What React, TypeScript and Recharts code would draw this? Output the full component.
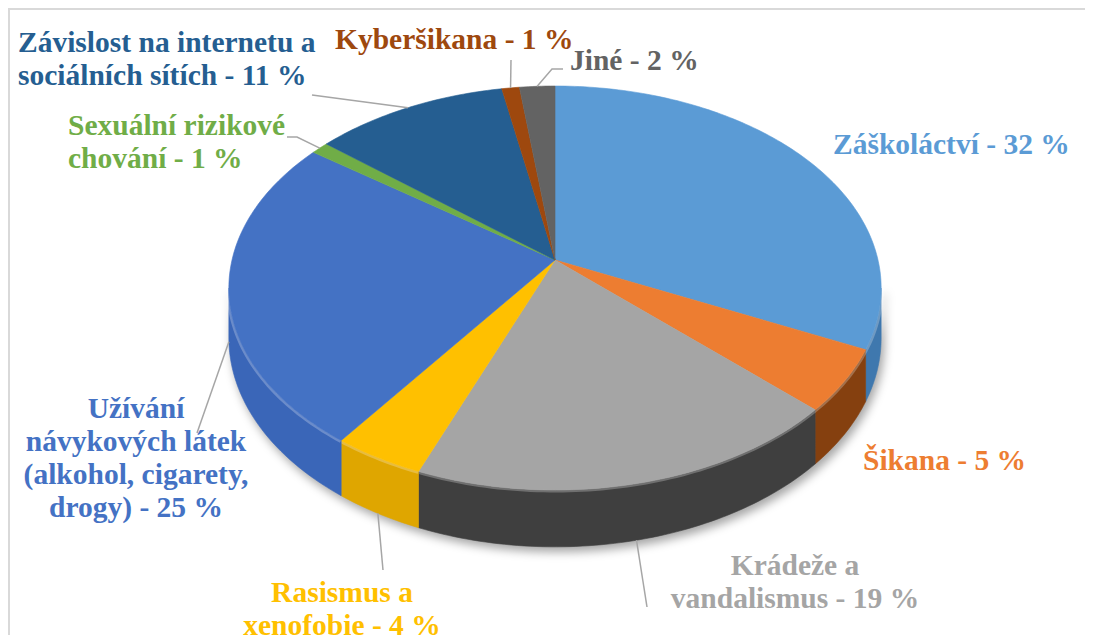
import React from 'react';
import { PieChart, Pie, Cell } from 'recharts';

const NAMES = [
  'Záškoláctví',
  'Šikana',
  'Krádeže a vandalismus',
  'Rasismus a xenofobie',
  'Užívání návykových látek (alkohol, cigarety, drogy)',
  'Sexuální rizikové chování',
  'Závislost na internetu a sociálních sítích',
  'Kyberšikana',
  'Jiné',
];
const VALUES = [32, 5, 19, 4, 25, 1, 11, 1, 2];

// label text split into lines; the value is appended to the last line
const LABEL_LINES = [
  ['Záškoláctví'],
  ['Šikana'],
  ['Krádeže a', 'vandalismus'],
  ['Rasismus a', 'xenofobie'],
  ['Užívání', 'návykových látek', '(alkohol, cigarety,', 'drogy)'],
  ['Sexuální rizikové', 'chování'],
  ['Závislost na internetu a', 'sociálních sítích'],
  ['Kyberšikana'],
  ['Jiné'],
];

const COLORS = ['#5B9BD5', '#ED7D31', '#A5A5A5', '#FFC000', '#4472C4', '#70AD47', '#255E91', '#9E480E', '#636363'];
const SIDE_COLORS = ['#3f78ae', '#85400f', '#3f3f3f', '#dfa600', '#3a66b8', '#568a36', '#1c4770', '#7a360a', '#4a4a4a'];

// label placement (text position + leader waypoints); leader ends on the slice rim
const LABEL_LAYOUT = [
  { x: 833, y: 154, anchor: 'start', leader: null, rim: 'top' },
  { x: 863, y: 470, anchor: 'start', leader: null, rim: 'top' },
  { x: 795, y: 575, anchor: 'middle', leader: [[647, 607]], rim: 'bottom' },
  { x: 342, y: 602, anchor: 'middle', leader: [[383, 570]], rim: 'bottom' },
  { x: 136, y: 418, anchor: 'middle', leader: [[197, 433]], rim: 'bottom' },
  { x: 68, y: 135, anchor: 'start', leader: [[287, 137], [297, 137]], rim: 'top' },
  { x: 18, y: 52, anchor: 'start', leader: [[312, 95]], rim: 'top' },
  { x: 335, y: 49, anchor: 'start', leader: [[511, 60]], rim: 'top' },
  { x: 570, y: 70, anchor: 'start', leader: [[563, 69], [552, 69]], rim: 'top' },
];

const data = NAMES.map((name, i) => ({ name, value: VALUES[i] }));

// perspective projection of the pie plane
const K = 0.1386;
const TILT = 0.6133;
const DEPTH = 0.1517;
const RAD = Math.PI / 180;
const SIL = Math.asin(K) / RAD;
const FONT = 'Liberation Serif, Times New Roman, serif';
const LINE_H = 33;

function proj(cx: number, cy: number, r: number, deg: number, down = 0) {
  const a = deg * RAD;
  const z = Math.sin(a);
  const den = 1 + K * z;
  return [cx + (r * Math.cos(a)) / den, cy - (r * TILT * z) / den + (down * r * DEPTH) / den];
}

function arc(cx: number, cy: number, r: number, a0: number, a1: number, down = 0) {
  const n = Math.max(2, Math.ceil(Math.abs(a0 - a1)));
  const pts: string[] = [];
  for (let s = 0; s <= n; s++) {
    const p = proj(cx, cy, r, a0 + ((a1 - a0) * s) / n, down);
    pts.push(`${p[0].toFixed(2)},${p[1].toFixed(2)}`);
  }
  return pts;
}

const idxOf = (props: any) => NAMES.indexOf(props.payload?.name ?? props.name);

const TopFace = (props: any) => {
  const { cx, cy, outerRadius, startAngle, endAngle, fill } = props;
  const pts = arc(cx, cy, outerRadius, startAngle, endAngle);
  return <path d={`M${cx},${cy} L${pts.join(' L')} Z`} fill={fill} stroke={fill} strokeWidth={0.6} />;
};

const SideWall = (props: any) => {
  const { cx, cy, outerRadius, startAngle, endAngle } = props;
  const hi = Math.min(startAngle, -SIL);
  const lo = Math.max(endAngle, -180 + SIL);
  if (hi <= lo) return <g />;
  const i = idxOf(props);
  const top = arc(cx, cy, outerRadius, hi, lo);
  const bottom = arc(cx, cy, outerRadius, lo, hi, 1);
  return (
    <g>
      <path d={`M${top.join(' L')} L${bottom.join(' L')} Z`} fill={SIDE_COLORS[i]} stroke={SIDE_COLORS[i]} strokeWidth={0.6} />
      <path d={`M${top.join(' L')}`} fill="none" stroke="#ffffff" strokeOpacity={0.25} strokeWidth={5} />
    </g>
  );
};

const renderLabel = (props: any) => {
  const { cx, cy, outerRadius, midAngle, index, value } = props;
  const lay = LABEL_LAYOUT[index];
  const lines = LABEL_LINES[index].slice();
  lines[lines.length - 1] = `${lines[lines.length - 1]} - ${value} %`;
  let leader = null;
  if (lay.leader) {
    const end = proj(cx, cy, outerRadius, midAngle, lay.rim === 'bottom' ? 1 : 0);
    const pts = [...lay.leader, end].map((p) => `${p[0]},${p[1]}`);
    leader = <path d={`M${pts.join(' L')}`} fill="none" stroke="#A6A6A6" strokeWidth={1.5} />;
  }
  return (
    <g key={`lbl-${index}`}>
      {leader}
      <text
        x={lay.x}
        y={lay.y}
        textAnchor={lay.anchor}
        fill={COLORS[index]}
        style={{ fontFamily: FONT, fontWeight: 700, fontSize: 29.5 }}
      >
        {lines.map((ln, j) => (
          <tspan key={j} x={lay.x} y={lay.y + j * LINE_H}>
            {ln}
          </tspan>
        ))}
      </text>
    </g>
  );
};

export default function App() {
  return (
    <div
      style={{
        position: 'relative',
        width: 1075,
        height: 625,
        borderTop: '2px solid #D9D9D9',
        borderLeft: '2px solid #D9D9D9',
        background: '#fff',
      }}
    >
      <style>{'.pie-sides{filter:drop-shadow(3px 5px 5px rgba(0,0,0,0.35));}'}</style>
      <div style={{ position: 'absolute', left: -10, top: -10 }}>
        <PieChart width={1093} height={643} margin={{ top: 0, right: 0, bottom: 0, left: 0 }}>
          <Pie
            className="pie-sides"
            data={data}
            dataKey="value"
            nameKey="name"
            cx={555}
            cy={260}
            outerRadius={323}
            startAngle={90}
            endAngle={-270}
            stroke="none"
            shape={SideWall}
            activeShape={SideWall}
            inactiveShape={SideWall}
            isAnimationActive={false}
          >
            {data.map((d, i) => (
              <Cell key={d.name} fill={SIDE_COLORS[i]} />
            ))}
          </Pie>
          <Pie
            data={data}
            dataKey="value"
            nameKey="name"
            cx={555}
            cy={260}
            outerRadius={323}
            startAngle={90}
            endAngle={-270}
            stroke="none"
            shape={TopFace}
            activeShape={TopFace}
            inactiveShape={TopFace}
            label={renderLabel}
            labelLine={false}
            isAnimationActive={false}
          >
            {data.map((d, i) => (
              <Cell key={d.name} fill={COLORS[i]} />
            ))}
          </Pie>
        </PieChart>
      </div>
    </div>
  );
}
